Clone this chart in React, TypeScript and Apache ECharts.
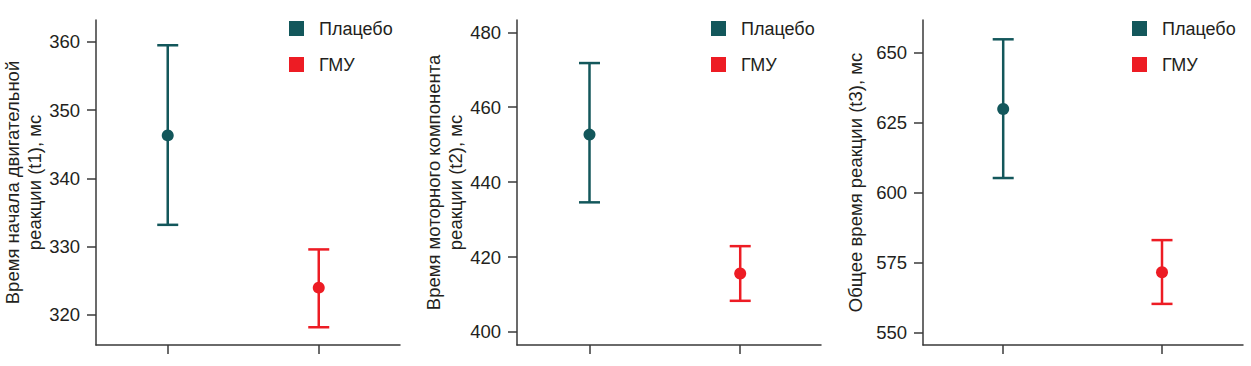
import React, { useEffect, useRef } from "react";
import * as echarts from "echarts";

const groups = ["Плацебо", "ГМУ"];
const groupColors = ["#13575b", "#ed1c24"];
const groupX = [1, 2];

const t1Mean = [346.3, 324.0];
const t1Lower = [333.2, 318.2];
const t1Upper = [359.5, 329.6];
const t1Ticks = [320, 330, 340, 350, 360];

const t2Mean = [452.7, 415.6];
const t2Lower = [434.6, 408.3];
const t2Upper = [471.8, 422.9];
const t2Ticks = [400, 420, 440, 460, 480];

const t3Mean = [629.9, 571.5];
const t3Lower = [605.2, 560.2];
const t3Upper = [654.8, 583.0];
const t3Ticks = [550, 575, 600, 625, 650];

const yNames = [
  "Время начала двигательной\nреакции (t1), мс",
  "Время моторного компонента\nреакции (t2), мс",
  "Общее время реакции (t3), мс",
];

const FONT = "Liberation Sans, Arial, sans-serif";
const TEXT = "#231f20";
const AXIS = "#3a3a3a";

export default function App() {
  const ref = useRef<HTMLDivElement>(null);
  useEffect(() => {
    if (!ref.current) return;
    const chart = echarts.init(ref.current, null, { renderer: "svg" });

    const panels = [
      { mean: t1Mean, lo: t1Lower, hi: t1Upper, ticks: t1Ticks, ymin: 315.6, ymax: 363.2, xmin: 0.525, xmax: 2.538, left: 96, width: 304, nameGap: 50, legendX: 289 },
      { mean: t2Mean, lo: t2Lower, hi: t2Upper, ticks: t2Ticks, ymin: 396.5, ymax: 483.3, xmin: 0.519, xmax: 2.536, left: 517, width: 304, nameGap: 49, legendX: 711 },
      { mean: t3Mean, lo: t3Lower, hi: t3Upper, ticks: t3Ticks, ymin: 545.5, ymax: 661.7, xmin: 0.495, xmax: 2.51, left: 923, width: 320, nameGap: 57, legendX: 1132 },
    ];

    const grid: any[] = [];
    const xAxis: any[] = [];
    const yAxis: any[] = [];
    const series: any[] = [];
    const graphic: any[] = [];

    panels.forEach((p, i) => {
      grid.push({ left: p.left, top: 20, width: p.width, height: 325, containLabel: false, outerBoundsMode: "none" });
      xAxis.push({
        type: "value",
        gridIndex: i,
        min: p.xmin,
        max: p.xmax,
        axisLine: { show: true, onZero: false, lineStyle: { color: AXIS, width: 1.5 } },
        axisTick: { show: true, customValues: groupX, length: 9, lineStyle: { color: AXIS, width: 1.5 } },
        axisLabel: { show: false },
        splitLine: { show: false },
      });
      yAxis.push({
        type: "value",
        gridIndex: i,
        min: p.ymin,
        max: p.ymax,
        name: yNames[i],
        nameLocation: "middle",
        nameGap: p.nameGap,
        nameTextStyle: { color: TEXT, fontSize: 18.5, fontFamily: FONT, lineHeight: 22 },
        axisLine: { show: true, onZero: false, lineStyle: { color: AXIS, width: 1.5 } },
        axisTick: { show: true, customValues: p.ticks, length: 9, lineStyle: { color: AXIS, width: 1.5 } },
        axisLabel: { customValues: p.ticks, margin: 16, color: TEXT, fontSize: 18.5, fontFamily: FONT },
        splitLine: { show: false },
      });
      series.push({
        type: "custom",
        xAxisIndex: i,
        yAxisIndex: i,
        data: groupX.map((x, k) => [x, p.lo[k], p.hi[k]]),
        renderItem: (params: any, api: any) => {
          const x = api.value(0);
          const lo = api.coord([x, api.value(1)]);
          const hi = api.coord([x, api.value(2)]);
          const color = groupColors[params.dataIndex];
          const hw = 10.5;
          const style = { stroke: color, lineWidth: 2.5 };
          return {
            type: "group",
            children: [
              { type: "line", shape: { x1: lo[0], y1: lo[1], x2: hi[0], y2: hi[1] }, style },
              { type: "line", shape: { x1: lo[0] - hw, y1: lo[1], x2: lo[0] + hw, y2: lo[1] }, style },
              { type: "line", shape: { x1: hi[0] - hw, y1: hi[1], x2: hi[0] + hw, y2: hi[1] }, style },
            ],
          };
        },
        z: 2,
      });
      series.push({
        type: "scatter",
        xAxisIndex: i,
        yAxisIndex: i,
        symbol: "circle",
        symbolSize: 12,
        itemStyle: { opacity: 1 },
        data: groupX.map((x, k) => ({ value: [x, p.mean[k]], itemStyle: { color: groupColors[k], opacity: 1 } })),
        z: 3,
      });
      groups.forEach((g, k) => {
        graphic.push({
          type: "rect",
          left: p.legendX,
          top: 21 + k * 36,
          shape: { width: 15, height: 15 },
          style: { fill: groupColors[k] },
        });
        graphic.push({
          type: "text",
          x: p.legendX + 30,
          y: 28.5 + k * 36,
          style: { text: g, fill: TEXT, fontSize: 18, fontFamily: FONT, verticalAlign: "middle", align: "left" },
        });
      });
    });

    chart.setOption({
      animation: false,
      backgroundColor: "#ffffff",
      grid,
      xAxis,
      yAxis,
      series,
      graphic,
    });
    return () => chart.dispose();
  }, []);

  return (
    <div
      ref={ref}
      style={{ position: "absolute", left: 0, top: 0, width: 1251, height: 366 }}
    />
  );
}
